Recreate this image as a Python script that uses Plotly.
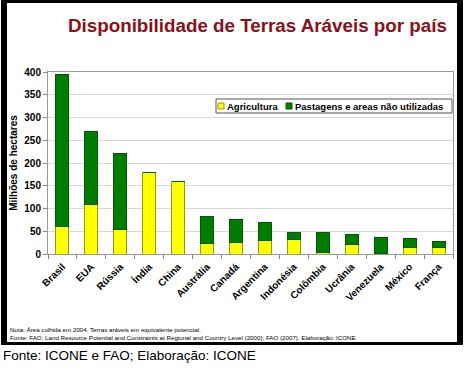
import plotly.graph_objects as go

countries = ["Brasil", "EUA", "Rússia", "Índia", "China", "Austrália", "Canadá",
             "Argentina", "Indonésia", "Colômbia", "Ucrânia", "Venezuela", "México", "França"]
agricultura = [60, 108, 53, 180, 160, 23, 25, 29, 31, 3, 20, 1, 15, 14]
pastagens = [334, 161, 167, 0, 0, 60, 50, 41, 17, 44, 22, 36, 20, 14]
yticks = [0, 50, 100, 150, 200, 250, 300, 350, 400]

W, H = 469, 372
L, R, T, B = 48, 453, 72, 254

def px(x):
    return (x - L) / (R - L)

def py(y):
    return (B - y) / (B - T)

FONT = "Liberation Sans, Arial, sans-serif"

fig = go.Figure()
fig.add_trace(go.Bar(x=countries, y=agricultura, name="Agricultura",
                     marker=dict(color="#FFFF00", line=dict(color="#9A9A10", width=1))))
fig.add_trace(go.Bar(x=countries, y=pastagens, name="Pastagens e areas não utilizadas",
                     marker=dict(color="#007D00", line=dict(color="#005A00", width=1))))

shapes = []
# black outer frame (four bars)
for x0, y0, x1, y1 in [(1, 0, 7, 345), (1, 0, 463, 3), (457, 0, 463, 345), (1, 342, 463, 345)]:
    shapes.append(dict(type="rect", xref="paper", yref="paper",
                       x0=px(x0), x1=px(x1), y0=py(y0), y1=py(y1),
                       fillcolor="black", line=dict(width=0), layer="above"))
# legend box
shapes.append(dict(type="rect", xref="paper", yref="paper",
                   x0=px(216), x1=px(452), y0=py(99), y1=py(113),
                   fillcolor="white", line=dict(color="#555555", width=1), layer="above"))
shapes.append(dict(type="rect", xref="paper", yref="paper",
                   x0=px(218), x1=px(224), y0=py(103), y1=py(109),
                   fillcolor="#FFFF00", line=dict(color="#9A9A10", width=1), layer="above"))
shapes.append(dict(type="rect", xref="paper", yref="paper",
                   x0=px(286), x1=px(292), y0=py(103), y1=py(109),
                   fillcolor="#007D00", line=dict(color="#005A00", width=1), layer="above"))

annotations = [
    dict(text="<b>Disponibilidade de Terras Aráveis por país</b>", xref="paper", yref="paper",
         x=px(257), y=py(25), xanchor="center", yanchor="middle", showarrow=False,
         font=dict(family=FONT, size=18.8, color="#8C1019")),
    dict(text="<b>Agricultura</b>", xref="paper", yref="paper",
         x=px(225), y=py(106), xanchor="left", yanchor="middle", showarrow=False,
         font=dict(family=FONT, size=9.5, color="black")),
    dict(text="<b>Pastagens e areas não utilizadas</b>", xref="paper", yref="paper",
         x=px(293), y=py(106), xanchor="left", yanchor="middle", showarrow=False,
         font=dict(family=FONT, size=9.5, color="black")),
    dict(text="Nota: Área colhida em 2004. Terras aráveis em equivalente potencial.",
         xref="paper", yref="paper", x=px(8), y=py(329), xanchor="left", yanchor="middle",
         showarrow=False, font=dict(family=FONT, size=6.2, color="black")),
    dict(text="Fonte: FAO, Land Resource Potential and Constraints at Regional and Country Level (2000); FAO (2007). Elaboração: ICONE",
         xref="paper", yref="paper", x=px(8), y=py(337), xanchor="left", yanchor="middle",
         showarrow=False, font=dict(family=FONT, size=6.2, color="black")),
    dict(text="Fonte: ICONE e FAO; Elaboração: ICONE", xref="paper", yref="paper",
         x=px(1), y=py(355), xanchor="left", yanchor="middle", showarrow=False,
         font=dict(family=FONT, size=13.5, color="black")),
]

fig.update_layout(
    width=W, height=H,
    margin=dict(l=L, r=W - R, t=T, b=H - B, autoexpand=False),
    paper_bgcolor="white", plot_bgcolor="white",
    barmode="stack", bargap=0.55,
    showlegend=False,
    shapes=shapes, annotations=annotations,
    font=dict(family=FONT, color="black"),
)
fig.update_xaxes(
    type="category", tickson="boundaries", ticks="outside", ticklen=4, tickcolor="#888888",
    tickangle=-45, tickfont=dict(family=FONT, size=10, color="black"),
    showline=True, linecolor="#999999", linewidth=1, mirror=True, showgrid=False,
    ticklabelstandoff=2,
    tickvals=countries, ticktext=[f"<b>{c}</b>" for c in countries],
)
fig.update_yaxes(
    range=[0, 400], tickvals=yticks, ticktext=[f"<b>{v}</b>" for v in yticks],
    ticks="outside", ticklen=4, tickcolor="#888888",
    tickfont=dict(family=FONT, size=10, color="black"),
    showline=True, linecolor="#999999", linewidth=1, mirror=True,
    showgrid=True, gridcolor="#D8D8D8", gridwidth=1, zeroline=False,
    title=dict(text="<b>Milhões de hectares</b>", font=dict(family=FONT, size=10, color="black"),
               standoff=4),
)

fig.write_html("out.html",
               config={"displayModeBar": False},
               post_script="document.body.style.margin='0';document.body.style.padding='0';document.body.style.overflow='hidden';")
